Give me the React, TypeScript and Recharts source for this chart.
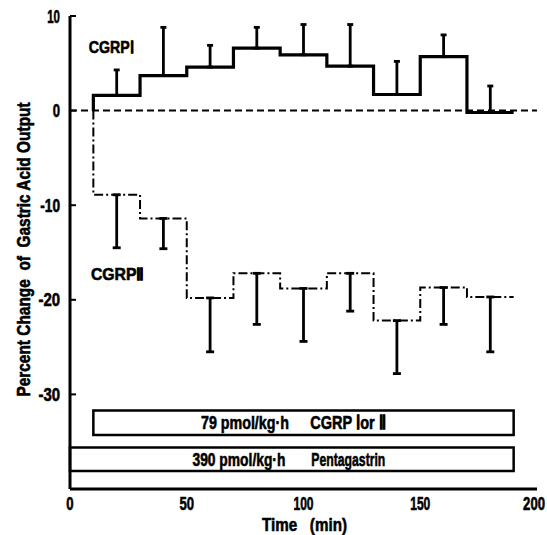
import React from 'react';
import {
  ComposedChart, Line, Scatter, ErrorBar, XAxis, YAxis, ReferenceLine, ReferenceArea, ReferenceDot, Label,
} from 'recharts';

// ---- data ----
const stepStarts = [10, 30, 50, 70, 90, 110, 130, 150, 170];
const stepEnd = 190;
const errorTimes = [20, 40, 60, 80, 100, 120, 140, 160, 180];
const cgrp1Means = [1.6, 3.7, 4.6, 6.6, 5.9, 4.7, 1.7, 5.7, -0.2];
const cgrp1Upper = [4.3, 8.8, 6.9, 8.8, 9.1, 9.1, 5.2, 8.0, 2.6];
const cgrp2Means = [-8.9, -11.4, -19.8, -17.2, -18.8, -17.2, -22.2, -18.7, -19.7];
const cgrp2Lower = [-14.5, -14.6, -25.5, -22.6, -24.4, -21.2, -27.8, -22.6, -25.5];
const xTicks = [0, 50, 100, 150, 200];
const yTicks = [-30, -20, -10, 0, 10];
const innerXTicks = [50, 100, 150];
const cgrpInfusion = [10, 190];
const pentaInfusion = [0, 190];
const cgrpBoxText = ['79 pmol/kg·h', 'CGRP Ⅰor Ⅱ'];
const pentaBoxText = ['390 pmol/kg·h', 'Pentagastrin'];

const FONT = "'Liberation Sans', Arial, sans-serif";

const stepSeries = (means: number[]) => {
  const pts = [{ t: stepStarts[0], v: 0 }];
  stepStarts.forEach((t, i) => pts.push({ t, v: means[i] }));
  pts.push({ t: stepEnd, v: means[means.length - 1] });
  return pts;
};

const cgrp1Line = stepSeries(cgrp1Means);
const cgrp2Line = stepSeries(cgrp2Means);
const cgrp1Err = errorTimes.map((t, i) => ({ t, v: cgrp1Means[i], e: [0, cgrp1Upper[i] - cgrp1Means[i]] }));
const cgrp2Err = errorTimes.map((t, i) => ({ t, v: cgrp2Means[i], e: [cgrp2Means[i] - cgrp2Lower[i], 0] }));

let measureCtx: any = null;
const measure = (s: string, size: number) => {
  if (!measureCtx && typeof document !== 'undefined') {
    measureCtx = document.createElement('canvas').getContext('2d');
  }
  if (!measureCtx) return s.length * size * 0.55;
  measureCtx.font = `bold ${size}px ${FONT}`;
  return measureCtx.measureText(s).width || s.length * size * 0.55;
};

// condensed heavy text (the reference uses a narrow bold face): horizontally scaled to width w
const CText = ({ x, y, w, anchor = 'start', size = 19, rotate = false, children }: any) => {
  const sx = w / measure(String(children), size);
  return (
    <text
      transform={`translate(${x} ${y})${rotate ? ' rotate(-90)' : ''} scale(${sx} 1)`}
      x={0} y={0} textAnchor={anchor}
      fontFamily={FONT} fontWeight="bold" fontSize={size} fill="#000" stroke="#000" strokeWidth={0.6}
      style={{ whiteSpace: 'pre' }}>
      {children}
    </text>
  );
};

const numWidth = (s: string) =>
  s.split('').reduce((a, c) => a + (c === '1' ? 5.5 : c === '-' ? 7 : 7.3), 0);

const LeftTick = (p: any) => {
  const s = String(p.payload.value);
  return <CText x={p.x} y={p.y + 6.5} w={numWidth(s)} anchor="end">{s}</CText>;
};
const BottomTick = (p: any) => {
  const s = String(p.payload.value);
  const w = numWidth(s);
  const cx = Math.min(p.x, 545 - w / 2);
  return <CText x={cx} y={p.y + 13} w={w} anchor="middle">{s}</CText>;
};

const boxLabel = (texts: string[], f1: number, w1: number, f2: number, w2: number) => (props: any) => {
  const vb = props.viewBox;
  const by = vb.y + vb.height / 2 + 6.5;
  return (
    <g>
      <CText x={vb.x + vb.width * f1} y={by} w={w1}>{texts[0]}</CText>
      <CText x={vb.x + vb.width * f2} y={by} w={w2}>{texts[1]}</CText>
    </g>
  );
};

const YTitle = (props: any) => {
  const vb = props.viewBox;
  return (
    <CText x={vb.x + 9 + 6.5} y={vb.y + vb.height / 2 - 3} w={295} anchor="middle" rotate>
      {'Percent Change  of  Gastric Acid Output'}
    </CText>
  );
};

const XTitle = (props: any) => {
  const vb = props.viewBox;
  return (
    <CText x={vb.x + vb.width / 2 + 1} y={vb.y + 42} w={85} anchor="middle">
      {'Time   (min)'}
    </CText>
  );
};

const NameLabel = (text: string, w: number) => (props: any) => {
  const vb = props.viewBox;
  return <CText x={vb.x} y={vb.y + vb.height / 2 + 6} w={w} size={17}>{text}</CText>;
};

export default function App() {
  return (
    <div style={{ position: 'absolute', left: 0, top: 0, background: '#fff' }}>
      <ComposedChart width={547} height={535} margin={{ top: 16, right: 10, bottom: 0, left: 14 }}>
        <XAxis xAxisId="b" type="number" dataKey="t" domain={[0, 200]} ticks={xTicks} allowDataOverflow
          height={46} tickSize={-6} tickMargin={14} tickLine={false} tick={BottomTick}
          axisLine={{ stroke: '#000', strokeWidth: 3 }}>
          <Label content={XTitle} />
        </XAxis>
        <XAxis xAxisId="top" orientation="top" type="number" dataKey="t" domain={[0, 200]} ticks={innerXTicks} allowDataOverflow
          height={0} tickSize={-6} tick={false} tickLine={{ stroke: '#000', strokeWidth: 2 }}
          axisLine={{ stroke: '#000', strokeWidth: 3 }} />
        <XAxis xAxisId="bin" type="number" dataKey="t" domain={[0, 200]} ticks={innerXTicks} allowDataOverflow
          height={0} tickSize={-6} tick={false} tickLine={{ stroke: '#000', strokeWidth: 2 }} axisLine={false} />
        <YAxis yAxisId="l" type="number" domain={[-40, 10]} ticks={yTicks} allowDataOverflow width={56}
          tickSize={-6} tickMargin={16} tick={LeftTick} tickLine={{ stroke: '#000', strokeWidth: 2 }}
          axisLine={{ stroke: '#000', strokeWidth: 3 }}>
          <Label content={YTitle} />
        </YAxis>
        <YAxis yAxisId="r" orientation="right" type="number" domain={[-40, 10]} ticks={yTicks} allowDataOverflow width={0}
          tickSize={-6} tick={false} tickLine={{ stroke: '#000', strokeWidth: 2 }}
          axisLine={{ stroke: '#000', strokeWidth: 3 }} />

        <ReferenceLine xAxisId="b" yAxisId="l" y={0} stroke="#000" strokeWidth={2} strokeDasharray="7 4" />

        <ReferenceArea xAxisId="b" yAxisId="l" x1={cgrpInfusion[0]} x2={cgrpInfusion[1]} y1={-34.3} y2={-31.7}
          fill="#fff" fillOpacity={1} stroke="#000" strokeWidth={2.5} label={boxLabel(cgrpBoxText, 0.256, 88, 0.516, 76)} />
        <ReferenceArea xAxisId="b" yAxisId="l" x1={pentaInfusion[0]} x2={pentaInfusion[1]} y1={-38.1} y2={-35.6}
          fill="#fff" fillOpacity={1} stroke="#000" strokeWidth={2.5} label={boxLabel(pentaBoxText, 0.276, 93, 0.544, 74)} />

        <Line xAxisId="b" yAxisId="l" data={cgrp2Line} dataKey="v" type="stepAfter" stroke="#000" strokeWidth={2}
          strokeDasharray="9 3 2 3" dot={false} isAnimationActive={false} />
        <Line xAxisId="b" yAxisId="l" data={cgrp1Line} dataKey="v" type="stepAfter" stroke="#000" strokeWidth={3.2}
          dot={false} isAnimationActive={false} />

        <Scatter xAxisId="b" yAxisId="l" data={cgrp1Err} dataKey="v" shape={() => <g />} isAnimationActive={false}>
          <ErrorBar dataKey="e" direction="y" width={3} stroke="#000" strokeWidth={2.8} />
        </Scatter>
        <Scatter xAxisId="b" yAxisId="l" data={cgrp2Err} dataKey="v" shape={() => <g />} isAnimationActive={false}>
          <ErrorBar dataKey="e" direction="y" width={4} stroke="#000" strokeWidth={2.8} />
        </Scatter>

        <ReferenceDot xAxisId="b" yAxisId="l" x={8.5} y={6.7} r={1} fill="none" stroke="none"
          label={<Label content={NameLabel('CGRPⅠ', 45)} />} />
        <ReferenceDot xAxisId="b" yAxisId="l" x={9.4} y={-17.3} r={1} fill="none" stroke="none"
          label={<Label content={NameLabel('CGRPⅡ', 53)} />} />
      </ComposedChart>
    </div>
  );
}
